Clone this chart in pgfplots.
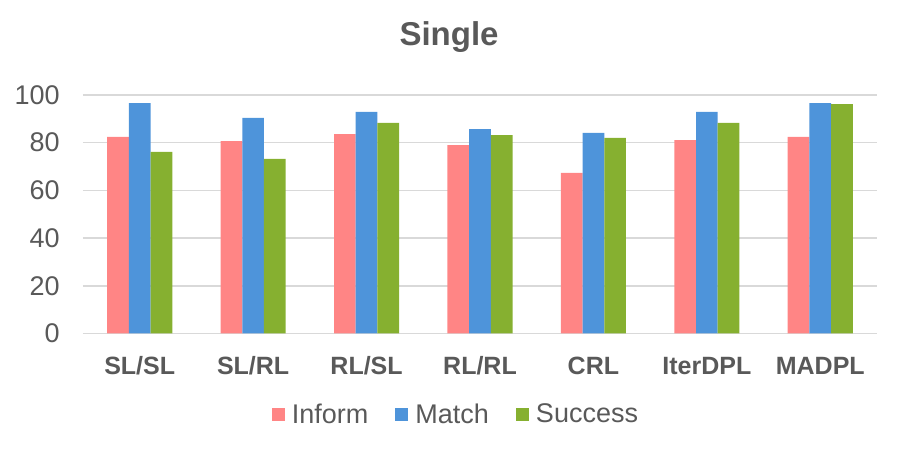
\documentclass[border=0pt]{standalone}
\usepackage{fontspec}
\setmainfont{Liberation Sans}
\usepackage{pgfplots}
\pgfplotsset{compat=1.18}
\definecolor{informc}{HTML}{FF8585}
\definecolor{matchc}{HTML}{4E94DA}
\definecolor{successc}{HTML}{86B030}
\definecolor{txt}{HTML}{595959}
\definecolor{gridc}{HTML}{D9D9D9}
\begin{document}
\begin{tikzpicture}
\begin{axis}[
    scale only axis,
    width=397pt, height=119.25pt,
    ybar=0pt, bar width=10.85pt,
    xmin=-0.5, xmax=6.5,
    ymin=0, ymax=100,
    xtick=data,
    xticklabels={SL/SL,SL/RL,RL/SL,RL/RL,CRL,IterDPL,MADPL},
    ytick={0,20,40,60,80,100},
    axis line style={draw=none},
    major tick length=0pt,
    ymajorgrids, grid style={gridc, line width=0.75pt},
    /pgf/number format/assume math mode=true,
    xticklabel style={font=\fontsize{12.5}{14}\selectfont\bfseries, text=txt, anchor=base, yshift=-20.5pt},
    yticklabel style={font=\fontsize{13.5}{16}\selectfont, text=txt, anchor=east, inner sep=0pt, xshift=-11.5pt},
    title={Single},
    title style={font=\fontsize{16.5}{19}\selectfont\bfseries, text=txt, at={(0.461,1)}, anchor=base, yshift=18.5pt},
    legend columns=-1,
    legend style={draw=none, fill=none, at={(0.4685,0)}, anchor=center, yshift=-40.75pt,
        font=\fontsize{13.5}{16}\selectfont, text=txt,
        nodes={inner xsep=0pt, inner ysep=1pt},
        /tikz/every odd column/.append style={column sep=3.5pt},
        /tikz/every even column/.append style={column sep=13.5pt}},
    legend image code/.code={\fill[#1] (0pt,-3.25pt) rectangle (6.5pt,3.25pt);},
]
\addplot[fill=informc, draw=none] coordinates {(0,82.4) (1,80.7) (2,83.6) (3,79.0) (4,67.3) (5,81.1) (6,82.4)};
\addplot[fill=matchc, draw=none] coordinates {(0,96.6) (1,90.4) (2,92.9) (3,85.7) (4,84.1) (5,92.9) (6,96.6)};
\addplot[fill=successc, draw=none] coordinates {(0,76.1) (1,73.2) (2,88.3) (3,83.2) (4,82.0) (5,88.3) (6,96.2)};
\legend{Inform, Match, Success}
\coordinate (sw) at (rel axis cs:0,0);
\coordinate (ne) at (rel axis cs:1,1);
\end{axis}
\pgfresetboundingbox
\path[use as bounding box] ([xshift=-41.5pt,yshift=-57.75pt]sw) rectangle ([xshift=11.5pt,yshift=47.5pt]ne);
\end{tikzpicture}
\end{document}
